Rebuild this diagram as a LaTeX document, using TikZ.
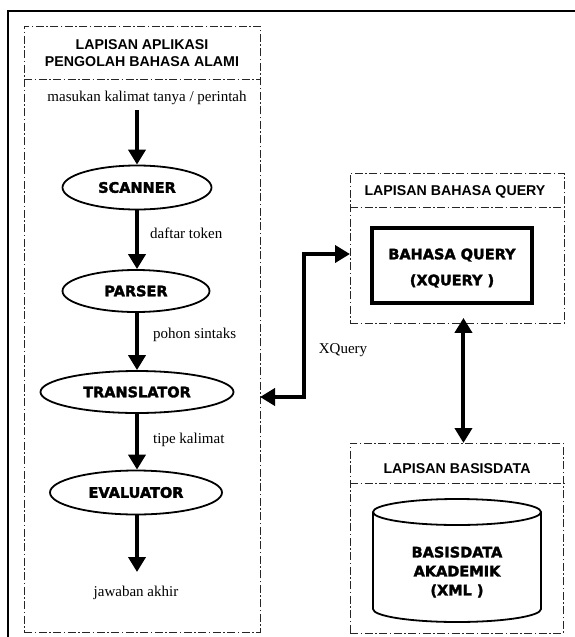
\documentclass[tikz,border=0pt]{standalone}
\usepackage{fontspec}
\setmainfont{Liberation Serif}
\newfontfamily\labelsans{Liberation Sans}
\newfontfamily\heavysans[BoldFeatures={FakeBold=2.2}]{DejaVu Sans}
\usetikzlibrary{arrows.meta,shapes.geometric,calc}

\tikzset{
  layer/.style={draw=black!85, line width=0.9pt,
    dash pattern=on 8pt off 2.5pt on 1.5pt off 2.5pt},
  layertitle/.style={font=\labelsans\bfseries\fontsize{14.2}{17}\selectfont, align=center, inner sep=0pt},
  proc/.style={ellipse, draw, line width=1.8pt, inner sep=0pt,
    font=\heavysans\bfseries\fontsize{14.5}{16}\selectfont},
  heavytext/.style={font=\heavysans\bfseries\fontsize{14.5}{16}\selectfont, align=center, inner sep=0pt},
  lab/.style={font=\fontsize{15}{17}\selectfont, inner sep=0pt},
  flow/.style={line width=4pt, -{Triangle[width=17pt,length=15pt]}},
  twoway/.style={line width=4pt, {Triangle[width=17pt,length=15pt]}-{Triangle[width=17pt,length=15pt]}},
}

\begin{document}
\begin{tikzpicture}[x=1pt,y=-1pt]
\useasboundingbox (0,0) rectangle (575,637);

% outer frame
\draw[line width=2.5pt] (8,645) -- (8,11) -- (585,11);

% ---- natural language application layer ----
\node[layer, anchor=north west, minimum width=236pt, minimum height=606pt, inner sep=0pt] (lbox) at (24,26) {};
\draw[layer] (lbox.west |- 0,79) -- (lbox.east |- 0,79);
\node[layertitle] (ltitle) at (142,53.5) {LAPISAN APLIKASI\\PENGOLAH BAHASA ALAMI};

\node[lab] (input) at (147,98) {masukan kalimat tanya / perintah};
\coordinate (s0) at (137,110);

\node[proc, minimum width=149pt, minimum height=44pt] (scanner) at (137,187.5) {SCANNER};
\node[proc, minimum width=147pt, minimum height=42pt] (parser) at (136,291) {PARSER};
\node[proc, minimum width=193pt, minimum height=42pt] (translator) at (137,392) {TRANSLATOR};
\node[proc, minimum width=172pt, minimum height=44pt] (evaluator) at (136,492.5) {EVALUATOR};

\coordinate (s5) at (137,572);
\node[lab] (output) at (136,593) {jawaban akhir};

\draw[flow] (s0) -- (scanner.north -| s0);
\draw[flow] (scanner.south -| s0) -- (parser.north -| s0);
\draw[flow] (parser.south -| s0) -- (translator.north -| s0);
\draw[flow] (translator.south -| s0) -- (evaluator.north -| s0);
\draw[flow] (evaluator.south -| s0) -- (s5);

\node[lab, anchor=west] (l1) at (150,233) {daftar token};
\node[lab, anchor=west] (l2) at (153,335) {pohon sintaks};
\node[lab, anchor=west] (l3) at (153,440) {tipe kalimat};

% ---- query language layer ----
\node[layer, anchor=north west, minimum width=214pt, minimum height=150pt, inner sep=0pt] (qbox) at (350,173) {};
\draw[layer] (qbox.west |- 0,207) -- (qbox.east |- 0,207);
\node[layertitle] (qtitle) at (455,192) {LAPISAN BAHASA QUERY};
\node[draw, line width=3.5pt, minimum width=160pt, minimum height=75pt, inner sep=0pt] (query) at (452,265.5) {};
\node[heavytext] (querytext) at (452,268) {BAHASA QUERY\\[10pt](XQUERY )};

% ---- database layer ----
\node[layer, anchor=north west, minimum width=213pt, minimum height=190pt, inner sep=0pt] (dbox) at (350,443) {};
\draw[layer] (dbox.west |- 0,483) -- (dbox.east |- 0,483);
\node[layertitle] (dtitle) at (457,469) {LAPISAN BASISDATA};

% database cylinder
\draw[line width=1.8pt] (373,512) -- (373,609)
  arc[start angle=180, end angle=360, x radius=84pt, y radius=13pt] -- (541,512);
\draw[line width=1.8pt] (457,512) ellipse [x radius=84pt, y radius=13pt];
\node[heavytext] (dbtext) at (457,572) {BASISDATA\\[3pt]AKADEMIK\\[3pt](XML )};

% ---- connectors between layers ----
\coordinate (xl) at (260,397);
\coordinate (xr) at (350,254);
\draw[twoway, line join=miter] (xl) -- (304,397) -- (304,254) -- (xr);
\node[lab] (xq) at (343,350) {XQuery};

\draw[twoway] ([xshift=6pt,yshift=6pt]qbox.south) -- ([xshift=6pt]qbox.south |- dbox.north);
\end{tikzpicture}
\end{document}
